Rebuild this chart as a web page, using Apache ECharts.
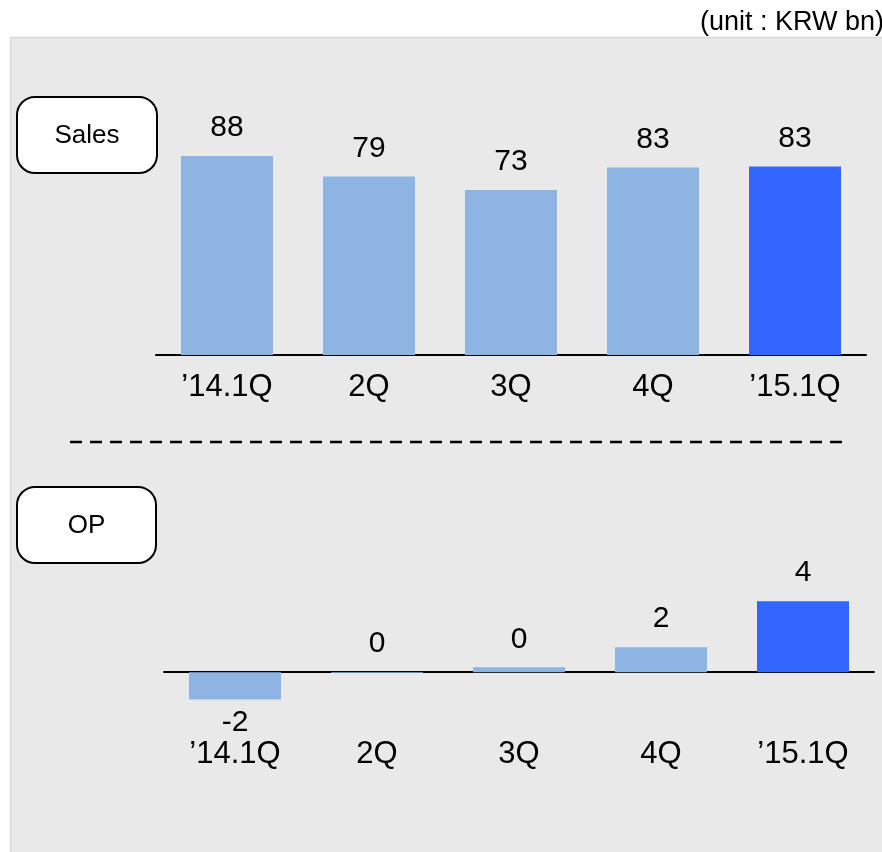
<!DOCTYPE html>
<html>
<head>
<meta charset="utf-8">
<script src="https://cdn.jsdelivr.net/npm/echarts@6/dist/echarts.min.js"></script>
<style>
html,body{margin:0;padding:0;background:#ffffff;}
#chart{width:882px;height:852px;}
</style>
</head>
<body>
<div id="chart"></div>
<script>
const categories = ['\u201914.1Q', '2Q', '3Q', '4Q', '\u201915.1Q'];
const salesValues = [88, 79, 73, 83, 83.4];
const opValues = [-1.7, -0.05, 0.3, 1.55, 4.4];
const highlightIndex = 4;
const unitText = '(unit : KRW bn)';
const panelTitles = ['Sales', 'OP'];

const FONT = '"Liberation Sans", Arial, sans-serif';
const LIGHT = '#8EB4E3';
const DARK = '#3366FF';

function roundLabel(v) {
  const r = Math.round(Math.abs(v)) * Math.sign(v);
  return r === 0 ? '0' : String(r);
}

function buildData(values, negBelow) {
  return values.map((v, i) => {
    const item = { value: v, itemStyle: { color: i === highlightIndex ? DARK : LIGHT } };
    if (negBelow && v < -0.5) {
      item.label = { position: 'bottom', distance: 8 };
    }
    return item;
  });
}

const chart = echarts.init(document.getElementById('chart'), null, { renderer: 'canvas' });

const axisLabelBase = { color: '#000', fontFamily: FONT, fontSize: 31, interval: 0 };

const option = {
  animation: false,
  backgroundColor: 'transparent',
  grid: [
    { left: 156, top: 129, width: 710, height: 226, outerBoundsMode: 'none', containLabel: false },
    { left: 164, top: 591.5, width: 710, height: 129, outerBoundsMode: 'none', containLabel: false }
  ],
  xAxis: [
    {
      gridIndex: 0, type: 'category', data: categories,
      axisLine: { show: true, lineStyle: { color: '#000', width: 2 } },
      axisTick: { show: false }, splitLine: { show: false },
      axisLabel: Object.assign({ margin: 17 }, axisLabelBase)
    },
    {
      gridIndex: 1, type: 'category', data: categories,
      axisLine: { show: true, onZero: true, lineStyle: { color: '#000', width: 2 } },
      axisTick: { show: false }, splitLine: { show: false },
      axisLabel: Object.assign({ margin: 18 }, axisLabelBase)
    }
  ],
  yAxis: [
    { gridIndex: 0, type: 'value', min: 0, max: 100, show: false, splitLine: { show: false } },
    { gridIndex: 1, type: 'value', min: -3, max: 5, show: false, splitLine: { show: false } }
  ],
  series: [
    {
      type: 'bar', xAxisIndex: 0, yAxisIndex: 0, barWidth: 92,
      data: buildData(salesValues, false),
      label: {
        show: true, position: 'top', distance: 13, color: '#000',
        fontFamily: FONT, fontSize: 30,
        formatter: p => roundLabel(p.value)
      },
      z: 3
    },
    {
      type: 'bar', xAxisIndex: 1, yAxisIndex: 1, barWidth: 92,
      data: buildData(opValues, true),
      label: {
        show: true, position: 'top', distance: 13, color: '#000',
        fontFamily: FONT, fontSize: 30,
        formatter: p => roundLabel(p.value)
      },
      z: 3
    }
  ],
  graphic: [
    {
      type: 'rect', z: -100, silent: true,
      shape: { x: 10.5, y: 37.5, width: 880, height: 820 },
      style: { fill: '#E9E9E9', stroke: '#D8D8D8', lineWidth: 1.5 }
    },
    {
      type: 'text', z: 10, x: 700, y: 23, silent: true,
      style: { text: unitText, fill: '#000', font: '27px ' + FONT, textVerticalAlign: 'middle', verticalAlign: 'middle' }
    },
    {
      type: 'rect', z: 10, silent: true,
      shape: { x: 17, y: 97, width: 140, height: 76, r: 18 },
      style: { fill: '#FFFFFF', stroke: '#000', lineWidth: 2 }
    },
    {
      type: 'text', z: 11, x: 87, y: 136, silent: true,
      style: { text: panelTitles[0], fill: '#000', font: '26px ' + FONT, align: 'center', verticalAlign: 'middle', textAlign: 'center', textVerticalAlign: 'middle' }
    },
    {
      type: 'rect', z: 10, silent: true,
      shape: { x: 17, y: 487, width: 139, height: 76, r: 18 },
      style: { fill: '#FFFFFF', stroke: '#000', lineWidth: 2 }
    },
    {
      type: 'text', z: 11, x: 86.5, y: 526, silent: true,
      style: { text: panelTitles[1], fill: '#000', font: '26px ' + FONT, align: 'center', verticalAlign: 'middle', textAlign: 'center', textVerticalAlign: 'middle' }
    },
    {
      type: 'line', z: 10, silent: true,
      shape: { x1: 70, y1: 442, x2: 850, y2: 442 },
      style: { stroke: '#000', lineWidth: 2.5, lineDash: [12, 8] }
    }
  ]
};

chart.setOption(option);
</script>
</body>
</html>
